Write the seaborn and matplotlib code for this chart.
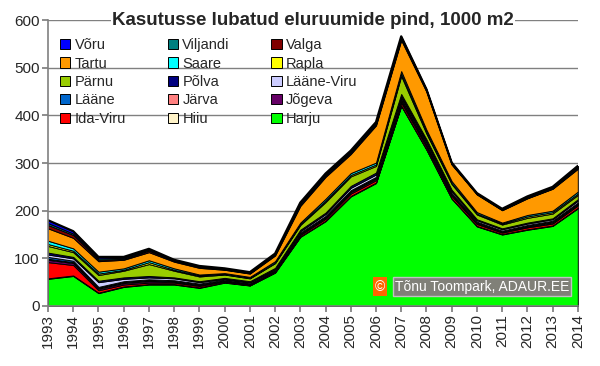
import matplotlib
matplotlib.use("Agg")
import matplotlib.pyplot as plt
import seaborn as sns

sns.set_theme(style="white")
plt.rcParams['font.family'] = ['Liberation Sans', 'DejaVu Sans']

# Andmed (1000 m2), maakonnad tähestiku järjekorras = virnastamise järjekord alt üles
years = list(range(1993, 2015))
maakonnad = ['Harju', 'Hiiu', 'Ida-Viru', 'Jõgeva', 'Järva', 'Lääne', 'Lääne-Viru',
             'Põlva', 'Pärnu', 'Rapla', 'Saare', 'Tartu', 'Valga', 'Viljandi', 'Võru']
harju = [57, 63, 27, 40, 45, 45, 38, 49, 43, 70, 145, 178, 230, 258, 420, 328, 225, 167, 150, 160, 168, 205]
hiiu = [1, 1, 1, 1, 1, 1, 1, 1, 0.5, 1, 1, 1, 1, 1, 1, 1, 1, 1, 1, 1, 1, 1]
ida_viru = [34, 22, 5, 4, 3, 3, 3, 2, 2, 2, 3, 4, 5, 5, 6, 5, 5, 4, 3, 4, 4, 5]
jogeva = [5, 4, 3, 3, 3, 2, 2, 1, 1, 1, 2, 2, 3, 3, 4, 3, 2, 2, 2, 2, 2, 2]
jarva = [2, 2, 2, 2, 2, 1, 1, 1, 1, 1, 1, 2, 2, 2, 3, 2, 2, 1, 1, 1, 2, 2]
laane = [4, 3, 2, 2, 2, 2, 2, 1, 1, 1, 2, 2, 2, 2, 3, 3, 2, 2, 1, 2, 2, 2]
laane_viru = [5, 5, 10, 5, 4, 4, 3, 2, 2, 2, 3, 4, 5, 5, 4, 4, 4, 3, 3, 3, 3, 4]
polva = [4, 3, 3, 3, 3, 2, 2, 2, 1.5, 2, 3, 3, 4, 4, 4, 4, 3, 2, 2, 2, 2, 3]
parnu = [14, 10, 12, 14, 25, 14, 10, 7, 6, 10, 10, 22, 20, 14, 38, 12, 12, 10, 8, 10, 10, 9]
rapla = [4, 3, 3, 2, 4, 2, 2, 1, 1, 1, 2, 3, 3, 3, 4, 3, 2, 2, 2, 3, 3, 3]
saare = [7, 5, 4, 3, 4, 3, 2, 2, 2, 3, 3, 4, 4, 4, 6, 5, 4, 3, 2, 3, 3, 4]
tartu = [26, 22, 22, 18, 17, 14, 14, 7, 7, 12, 35, 46, 40, 78, 65, 80, 35, 37, 26, 35, 46, 48]
valga = [7, 6, 3, 2, 3, 2, 2, 1, 1, 2, 3, 3, 3, 3, 3, 2, 1, 1, 1, 1, 1, 2]
viljandi = [4, 3, 3, 2, 2, 1, 1, 1, 1, 1, 2, 2, 2, 2, 3, 2, 2, 1, 1, 1, 1, 2]
voru = [6, 5, 3, 2, 2, 1, 1, 1, 1, 1, 2, 2, 2, 2, 2, 1, 1, 1, 1, 2, 2, 2]

series = [harju, hiiu, ida_viru, jogeva, jarva, laane, laane_viru, polva,
          parnu, rapla, saare, tartu, valga, viljandi, voru]
colors = ['#00FF00', '#FFF3C8', '#FF0000', '#660066', '#FF8080', '#0066CC', '#CCCCFF',
          '#000080', '#99CC00', '#FFFF00', '#00FFFF', '#FF9900', '#800000', '#008080', '#0000FF']

fig = plt.figure(figsize=(6, 3.66), dpi=100)
ax = fig.add_axes([0.08, 0.164, 0.883, 0.781])

polys = ax.stackplot(years, series, colors=colors, labels=maakonnad,
                     edgecolor='black', linewidth=0.7)
# paks must ülemine serv
total = [sum(v) for v in zip(*series)]
sns.lineplot(x=years, y=total, color='black', linewidth=1.6, ax=ax)

ax.set_xlim(1993, 2014)
ax.set_ylim(0, 600)
ax.set_yticks(range(0, 601, 100))
ax.set_xticks(years)
ax.set_xticklabels([str(y) for y in years], rotation=90)
ax.tick_params(axis='both', labelsize=11, length=4, direction='out', color='#808080',
               left=True, bottom=True, pad=2)
ax.yaxis.grid(True, color='#808080', linewidth=1)
ax.set_axisbelow(True)
for s in ['top', 'right']:
    ax.spines[s].set_visible(False)
for s in ['left', 'bottom']:
    ax.spines[s].set_color('#808080')
    ax.spines[s].set_linewidth(1.2)

ax.text(0.5, 1.0, 'Kasutusse lubatud eluruumide pind, 1000 m2', transform=ax.transAxes,
        ha='center', va='center', fontsize=13.5, fontweight='bold',
        bbox=dict(facecolor='white', edgecolor='none', pad=1))

# legend: ridade kaupa tagurpidi tähestikus
handles = polys[::-1]
labels = maakonnad[::-1]
order = list(range(0, 15, 3)) + list(range(1, 15, 3)) + list(range(2, 15, 3))
leg = ax.legend([handles[i] for i in order], [labels[i] for i in order], ncol=3,
                loc='upper left', bbox_to_anchor=(0.012, 0.957), frameon=False,
                fontsize=10.5, handlelength=0.7, handleheight=0.7, handletextpad=0.3,
                columnspacing=2.85, labelspacing=0.3, borderaxespad=0)

ax.text(0.655, 0.068, 'Tõnu Toompark, ADAUR.EE', transform=ax.transAxes, ha='left',
        va='center', fontsize=10, color='white',
        bbox=dict(facecolor='#808078', edgecolor='#C0C0C0', pad=1.5))
ax.text(0.617, 0.068, '©', transform=ax.transAxes, ha='left', va='center',
        fontsize=10, color='white',
        bbox=dict(facecolor='#FF6600', edgecolor='none', pad=1.5))

fig.savefig('out.png', dpi=100)
